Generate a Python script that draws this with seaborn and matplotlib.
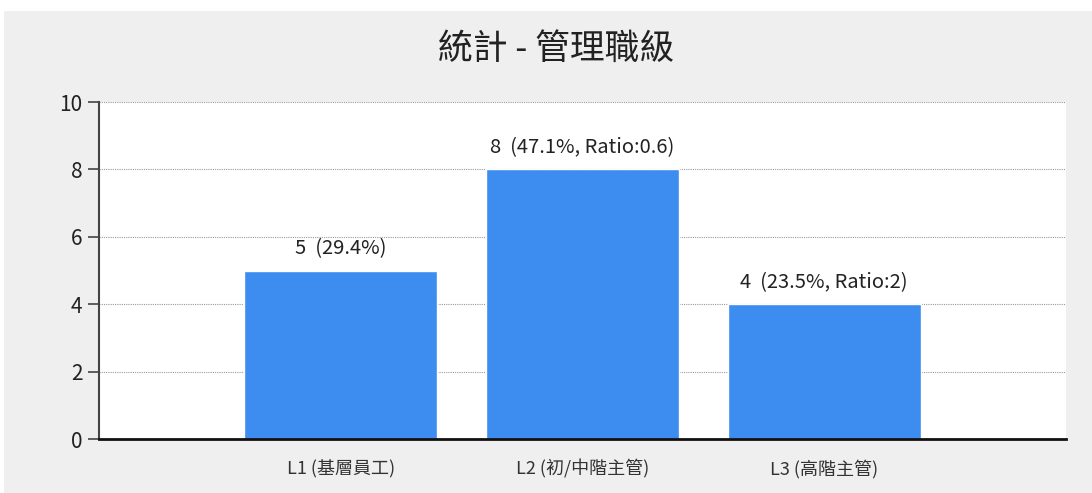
import numpy as np
import pandas as pd
import seaborn as sns
import matplotlib
matplotlib.use('Agg')
import matplotlib.pyplot as plt
from matplotlib.patches import Rectangle

sns.set_theme(style='white')
plt.rcParams['font.family'] = ['Noto Sans CJK TC', 'DejaVu Sans']

# Data
categories = ["L1 (基層員工)", "L2 (初/中階主管)", "L3 (高階主管)"]
counts = [5, 8, 4]
bar_labels = ["5  (29.4%)", "8  (47.1%, Ratio:0.6)", "4  (23.5%, Ratio:2)"]
y_ticks = [0, 2, 4, 6, 8, 10]

df = pd.DataFrame({"level": categories, "count": counts})

fig = plt.figure(figsize=(10.92, 4.93), dpi=100)
fig.patch.set_facecolor('white')
# gray panel behind the chart
fig.patches.append(Rectangle((4 / 1092, 0), 1, 1 - 11 / 493, transform=fig.transFigure,
                             facecolor='#efefef', edgecolor='none', zorder=-10))

ax = fig.add_axes([99 / 1092, 1 - 439 / 493, (1066 - 99) / 1092, (439 - 102) / 493])
ax.set_facecolor('white')

sns.barplot(data=df, x="level", y="count", color='#3d8cf0', saturation=1, width=0.8, ax=ax)

ax.set_xlim(-1, 3)
ax.set_ylim(0, 10)
ax.set_yticks(y_ticks)
ax.set_xlabel("")
ax.set_ylabel("")

# dotted grid lines
ax.yaxis.grid(True, linestyle=(0, (1, 1)), color='#999999', linewidth=0.8)
ax.set_axisbelow(True)

for s in ['top', 'right']:
    ax.spines[s].set_visible(False)
ax.spines['left'].set_color('#444444')
ax.spines['left'].set_linewidth(1.5)
ax.spines['bottom'].set_color('#111111')
ax.spines['bottom'].set_linewidth(2)

ax.tick_params(axis='y', left=True, length=8, width=1.2, color='#444444', labelsize=15,
               labelcolor='#222222', pad=4)
ax.tick_params(axis='x', bottom=False, labelsize=13, labelcolor='#333333', pad=9)

# value labels over the bars
for i, (v, lab) in enumerate(zip(counts, bar_labels)):
    ax.annotate(lab, (i, v), xytext=(0, 8), textcoords='offset points',
                ha='center', va='bottom', fontsize=14.5, color='#222222')

fig.text(0.509, 1 - 49 / 493, "統計 - 管理職級", ha='center', va='center',
         fontsize=25, color='#222222')

fig.savefig('out.png', dpi=100)
